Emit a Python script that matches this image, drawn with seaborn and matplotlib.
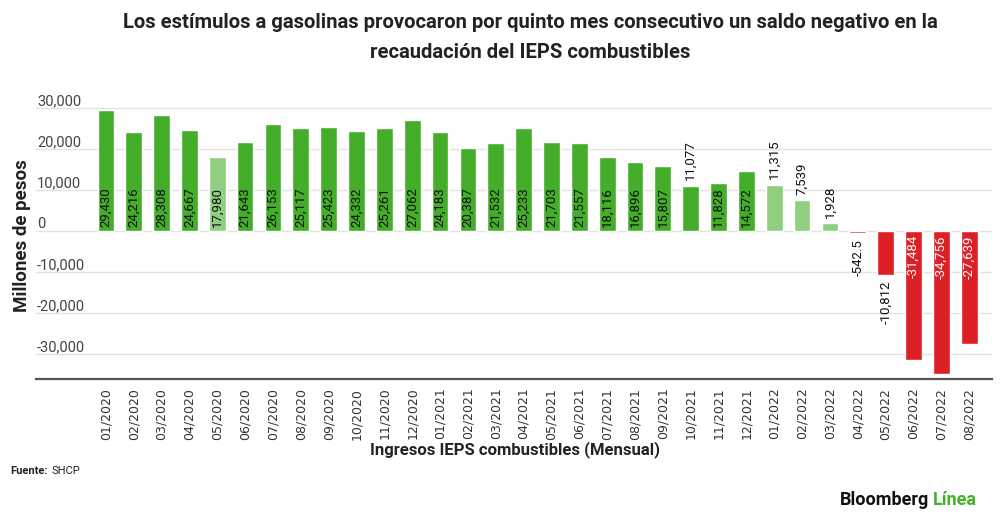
import matplotlib
matplotlib.use("Agg")
import matplotlib.pyplot as plt
import seaborn as sns
import pandas as pd
from matplotlib.transforms import blended_transform_factory

months = ["01/2020", "02/2020", "03/2020", "04/2020", "05/2020", "06/2020", "07/2020", "08/2020",
          "09/2020", "10/2020", "11/2020", "12/2020", "01/2021", "02/2021", "03/2021", "04/2021",
          "05/2021", "06/2021", "07/2021", "08/2021", "09/2021", "10/2021", "11/2021", "12/2021",
          "01/2022", "02/2022", "03/2022", "04/2022", "05/2022", "06/2022", "07/2022", "08/2022"]
values = [29430, 24216, 28308, 24667, 17980, 21643, 26153, 25117,
          25423, 24332, 25261, 27062, 24183, 20387, 21532, 25233,
          21703, 21557, 18116, 16896, 15807, 11077, 11828, 14572,
          11315, 7539, 1928, -542.5, -10812, -31484, -34756, -27639]
value_labels = ["29,430", "24,216", "28,308", "24,667", "17,980", "21,643", "26,153", "25,117",
                "25,423", "24,332", "25,261", "27,062", "24,183", "20,387", "21,532", "25,233",
                "21,703", "21,557", "18,116", "16,896", "15,807", "11,077", "11,828", "14,572",
                "11,315", "7,539", "1,928", "-542.5", "-10,812", "-31,484", "-34,756", "-27,639"]
groups = ["dark"] * 4 + ["light"] + ["dark"] * 19 + ["light"] * 3 + ["red"] * 5
label_outside = [False] * 21 + [True] + [False] * 2 + [True] * 5 + [False] * 3
yticks = [30000, 20000, 10000, 0, -10000, -20000, -30000]
ytick_labels = ["30,000", "20,000", "10,000", "0", "-10,000", "-20,000", "-30,000"]

palette = {"dark": "#44ae2a", "light": "#8fcf7f", "red": "#df1f26"}

sns.set_theme(style="white")
plt.rcParams["font.family"] = ["Roboto", "DejaVu Sans"]

fig = plt.figure(figsize=(10, 5.25), dpi=100)
ax = fig.add_axes([0.036, 0.2775, 0.956, 0.5415])

df = pd.DataFrame({"month": months, "value": values, "group": groups})
sns.barplot(data=df, x="month", y="value", hue="group", order=months, palette=palette,
            dodge=False, legend=False, width=0.6, saturation=1, ax=ax)

ax.set_xlim(-2.51, 31.82)
ax.set_ylim(-36170, 33200)

for s in ["top", "right", "left"]:
    ax.spines[s].set_visible(False)
ax.spines["bottom"].set_color("#555555")
ax.spines["bottom"].set_linewidth(1.6)

ax.set_yticks(yticks)
ax.set_yticklabels([])
ax.tick_params(axis="y", length=0)
ax.yaxis.grid(True, color="#e3e3e3", linewidth=1)
ax.set_axisbelow(True)
trans = blended_transform_factory(ax.transAxes, ax.transData)
for yv, yl in zip(yticks, ytick_labels):
    ax.text(0.001, yv, yl, transform=trans, ha="left", va="bottom", fontsize=10.5,
            color="#444444")

ax.set_xticks(range(len(months)))
ax.set_xticklabels(months, rotation=90, fontsize=9, color="#333333",
                   family=["DejaVu Sans"])
ax.tick_params(axis="x", length=0, pad=6)
ax.set_xlabel("")
ax.set_ylabel("")

for i, (v, lab, out, g) in enumerate(zip(values, value_labels, label_outside, groups)):
    if out:
        if v >= 0:
            ax.annotate(lab, xy=(i, v), xytext=(0, 4), textcoords="offset points",
                        rotation=90, ha="center", va="bottom", fontsize=9.5, color="#111111")
        else:
            ax.annotate(lab, xy=(i, v), xytext=(0, -4), textcoords="offset points",
                        rotation=90, ha="center", va="top", fontsize=9.5, color="#111111")
    else:
        if v >= 0:
            ax.annotate(lab, xy=(i, 0), xytext=(0, 3), textcoords="offset points",
                        rotation=90, ha="center", va="bottom", fontsize=9.5, color="#111111")
        else:
            ax.annotate(lab, xy=(i, 0), xytext=(0, -3), textcoords="offset points",
                        rotation=90, ha="center", va="top", fontsize=9.5, color="white")

fig.text(0.53, 1 - 22 / 525, "Los estímulos a gasolinas provocaron por quinto mes consecutivo un saldo negativo en la",
         ha="center", va="center", fontsize=14.6, fontweight="bold", color="#222222")
fig.text(0.53, 1 - 53 / 525, "recaudación del IEPS combustibles",
         ha="center", va="center", fontsize=14.6, fontweight="bold", color="#222222")

fig.text(0.022, 1 - 236 / 525, "Millones de pesos", rotation=90, ha="center", va="center",
         fontsize=13.5, fontweight="bold", color="#222222")
fig.text(0.515, 1 - 450 / 525, "Ingresos IEPS combustibles (Mensual)", ha="center", va="center",
         fontsize=12, fontweight="bold", color="#222222")
fig.text(0.010, 1 - 471 / 525, "Fuente:", ha="left", va="center", fontsize=8,
         fontweight="bold", color="#222222")
fig.text(0.051, 1 - 471 / 525, "SHCP", ha="left", va="center", fontsize=8, color="#222222")
fig.text(0.929, 1 - 500 / 525, "Bloomberg", ha="right", va="center", fontsize=13,
         fontweight="bold", color="#111111")
fig.text(0.933, 1 - 500 / 525, "Línea", ha="left", va="center", fontsize=13,
         fontweight="bold", color="#45b02b")

fig.savefig("out.png", dpi=100)
